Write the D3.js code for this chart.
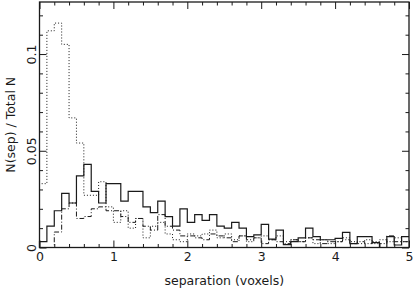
<!DOCTYPE html>
<html>
<head>
<meta charset="utf-8">
<script src="https://cdn.jsdelivr.net/npm/d3@7"></script>
<style>
  body { margin: 0; background: #fff; }
  svg { display: block; }
</style>
</head>
<body>
<div id="chart"></div>
<script>
// bins of 0.1 voxel from 0 to 5
const binStart = d3.range(0, 50).map(i => i / 10);

const solidVals = [
  0.003, 0.011, 0.019, 0.028, 0.023, 0.037, 0.043, 0.029, 0.023, 0.033,
  0.033, 0.024, 0.029, 0.029, 0.021, 0.018, 0.024, 0.016, 0.011, 0.020,
  0.013, 0.017, 0.014, 0.017, 0.011, 0.010, 0.013, 0.010, 0.0056, 0.0065,
  0.012, 0.0043, 0.009, 0.0015, 0.003, 0.005, 0.010, 0.0056, 0.004, 0.004,
  0.0047, 0.0078, 0.002, 0.0056, 0.0056, 0.0025, 0.0, 0.0056, 0.0013, 0.0056
];

const dottedVals = [
  0.033, 0.112, 0.116, 0.105, 0.067, 0.054, 0.027, 0.027, 0.034, 0.021,
  0.013, 0.019, 0.010, 0.015, 0.005, 0.011, 0.013, 0.007, 0.004, 0.003,
  0.007, 0.006, 0.007, 0.009, 0.005, 0.007, 0.004, 0.006, 0.003, 0.005,
  0.006, 0.004, 0.006, 0.003, 0.004, 0.003, 0.005, 0.002, 0.004, 0.002,
  0.003, 0.005, 0.003, 0.002, 0.004, 0.002, 0.004, 0.003, 0.005, 0.003
];

const dashDotVals = [
  0, 0, 0.008, 0.020, 0.023, 0.015, 0.016, 0.020, 0.021, 0.019,
  0.019, 0.016, 0.013, 0.015, 0.011, 0.009, 0.017, 0.011, 0.009, 0.006,
  0.006, 0.005, 0.004, 0.007, 0.006, 0.005, 0.003, 0.006, 0.004, 0.005,
  0.002, 0.004, 0.003, 0.002, 0.004, 0.003, 0.005, 0.004, 0.002, 0.003,
  0.003, 0.004, 0.002, 0.003, 0.002, 0.003, 0.002, 0.006, 0.003, 0.003
];

const xMajor = [0, 1, 2, 3, 4, 5];
const yMajor = [0, 0.05, 0.1];

const width = 413;
const height = 294;
const margin = {top: 2, right: 4, bottom: 46.5, left: 39.5};
const innerWidth = width - margin.left - margin.right;
const innerHeight = height - margin.top - margin.bottom;

const fontFamily = '"DejaVu Sans", Arial, sans-serif';
const fontSize = '12.5px';
const ink = '#1a1a1a';

const xScale = d3.scaleLinear().domain([0, 5]).range([0, innerWidth]);
const yScale = d3.scaleLinear().domain([0, 0.1269]).range([innerHeight, 0]);

const svg = d3.select('#chart').append('svg')
  .attr('width', width)
  .attr('height', height);

const g = svg.append('g')
  .attr('transform', `translate(${margin.left},${margin.top})`);

// histograms
const stepLine = d3.line()
  .x(d => xScale(d[0]))
  .y(d => yScale(d[1]))
  .curve(d3.curveStepAfter);

function histPoints(vals) {
  const pts = [[0, 0]];
  vals.forEach((v, i) => pts.push([binStart[i], v]));
  pts.push([5, vals[vals.length - 1]]);
  return pts;
}

g.append('path')
  .attr('d', stepLine(histPoints(dottedVals)))
  .attr('fill', 'none')
  .attr('stroke', ink)
  .attr('stroke-width', 1)
  .attr('stroke-dasharray', '1,2');

g.append('path')
  .attr('d', stepLine(histPoints(dashDotVals)))
  .attr('fill', 'none')
  .attr('stroke', ink)
  .attr('stroke-width', 1)
  .attr('stroke-dasharray', '5,2,1,2');

g.append('path')
  .attr('d', stepLine(histPoints(solidVals)))
  .attr('fill', 'none')
  .attr('stroke', ink)
  .attr('stroke-width', 1.2);

// frame
g.append('rect')
  .attr('width', innerWidth)
  .attr('height', innerHeight)
  .attr('fill', 'none')
  .attr('stroke', ink)
  .attr('stroke-width', 1.3);

const xMinor = d3.range(0, 5.01, 0.2).filter(v => Math.abs(v - Math.round(v)) > 1e-6);
const yMinor = d3.range(0, 0.1265, 0.01).filter(v => Math.abs(v * 20 - Math.round(v * 20)) > 1e-6);

function styleAxis(sel) {
  sel.select('.domain').remove();
  sel.selectAll('.tick line').attr('stroke', ink).attr('stroke-width', 1);
  sel.selectAll('.tick text')
    .style('font-family', fontFamily)
    .style('font-size', fontSize)
    .attr('fill', ink);
}

// bottom
g.append('g').attr('transform', `translate(0,${innerHeight})`)
  .call(d3.axisBottom(xScale).tickValues(xMajor).tickSize(-7).tickPadding(5).tickFormat(d3.format('d')))
  .call(styleAxis);
g.append('g').attr('transform', `translate(0,${innerHeight})`)
  .call(d3.axisBottom(xScale).tickValues(xMinor).tickSize(-3.5).tickFormat(''))
  .call(styleAxis);
// top
g.append('g')
  .call(d3.axisTop(xScale).tickValues(xMajor).tickSize(-7).tickFormat(''))
  .call(styleAxis);
g.append('g')
  .call(d3.axisTop(xScale).tickValues(xMinor).tickSize(-3.5).tickFormat(''))
  .call(styleAxis);
// left
g.append('g')
  .call(d3.axisLeft(yScale).tickValues(yMajor).tickSize(-7).tickPadding(4).tickFormat(d => d === 0 ? '0' : d3.format('')(d)))
  .call(styleAxis)
  .call(a => a.selectAll('.tick text')
    .attr('x', 0).attr('dy', 0)
    .attr('text-anchor', 'middle')
    .attr('transform', 'translate(-4,0) rotate(-90)'));
g.append('g')
  .call(d3.axisLeft(yScale).tickValues(yMinor).tickSize(-3.5).tickFormat(''))
  .call(styleAxis);
// right
g.append('g').attr('transform', `translate(${innerWidth},0)`)
  .call(d3.axisRight(yScale).tickValues(yMajor).tickSize(-7).tickFormat(''))
  .call(styleAxis);
g.append('g').attr('transform', `translate(${innerWidth},0)`)
  .call(d3.axisRight(yScale).tickValues(yMinor).tickSize(-3.5).tickFormat(''))
  .call(styleAxis);

// titles
g.append('text')
  .attr('x', innerWidth / 2)
  .attr('y', innerHeight + 37)
  .attr('text-anchor', 'middle')
  .style('font-family', fontFamily)
  .style('font-size', fontSize)
  .attr('fill', ink)
  .text('separation (voxels)');

g.append('text')
  .attr('transform', `translate(${-25},${innerHeight / 2}) rotate(-90)`)
  .attr('text-anchor', 'middle')
  .style('font-family', fontFamily)
  .style('font-size', fontSize)
  .attr('fill', ink)
  .text('N(sep) / Total N');
</script>
</body>
</html>
